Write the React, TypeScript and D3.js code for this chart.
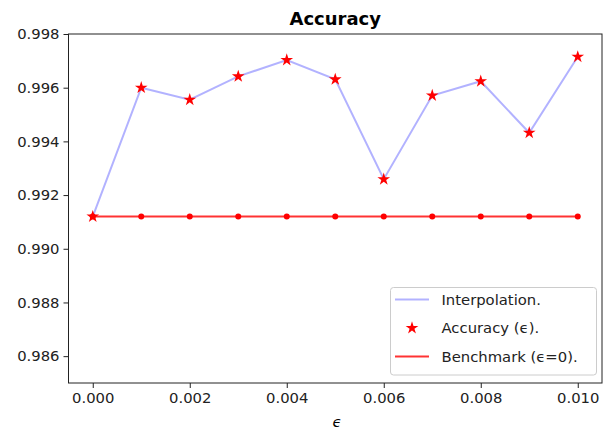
import React, { useEffect, useRef } from 'react';
import * as d3 from 'd3';

// epsilon values and measured accuracy
const epsilons = [0, 0.001, 0.002, 0.003, 0.004, 0.005, 0.006, 0.007, 0.008, 0.009, 0.01];
const accuracy = [0.9912, 0.996, 0.99555, 0.99642, 0.99703, 0.99631, 0.99259, 0.99571, 0.99624, 0.99432, 0.99715];
const benchmark = 0.9912;
const xTicks = [0, 0.002, 0.004, 0.006, 0.008, 0.01];
const yTicks = [0.986, 0.988, 0.99, 0.992, 0.994, 0.996, 0.998];
const legendLabels = ['Interpolation.', 'Accuracy (ϵ).', 'Benchmark (ϵ=0).'];

const App = () => {
  const svgRef = useRef<SVGSVGElement>(null);

  useEffect(() => {
    const width = 603;
    const height = 430;
    const m = { left: 68.5, top: 34, right: 602, bottom: 383 };
    const font = 'DejaVu Sans, sans-serif';
    const fs = '14.8px';

    const svg = d3.select(svgRef.current);
    svg.selectAll('*').remove();
    svg.attr('width', width).attr('height', height).style('display', 'block');

    svg.append('rect').attr('width', width).attr('height', height).attr('fill', 'white');

    const x = d3.scaleLinear().domain([-0.0005, 0.0105]).range([m.left, m.right]);
    const y = d3.scaleLinear().domain([0.985, 0.998]).range([m.bottom, m.top]);

    // axes
    const xAxis = svg.append('g')
      .attr('transform', `translate(0,${m.bottom})`)
      .call(d3.axisBottom(x).tickValues(xTicks).tickFormat(d3.format('.3f')).tickSize(5).tickPadding(4));
    const yAxis = svg.append('g')
      .attr('transform', `translate(${m.left},0)`)
      .call(d3.axisLeft(y).tickValues(yTicks).tickFormat(d3.format('.3f')).tickSize(5).tickPadding(4));
    [xAxis, yAxis].forEach(a => {
      a.select('.domain').remove();
      a.selectAll('line').attr('stroke', '#222');
      a.selectAll('text').attr('fill', '#222').style('font-family', font).style('font-size', fs);
    });

    // spines
    svg.append('rect')
      .attr('x', m.left).attr('y', m.top)
      .attr('width', m.right - m.left).attr('height', m.bottom - m.top)
      .attr('fill', 'none').attr('stroke', '#222').attr('stroke-width', 1);

    const pts = epsilons.map((e, i) => [e, accuracy[i]] as [number, number]);
    const line = d3.line<[number, number]>().x(d => x(d[0])).y(d => y(d[1]));

    // interpolation
    svg.append('path')
      .attr('d', line(pts))
      .attr('fill', 'none')
      .attr('stroke', 'blue')
      .attr('stroke-opacity', 0.3)
      .attr('stroke-width', 2);

    // benchmark
    svg.append('path')
      .attr('d', line(epsilons.map(e => [e, benchmark] as [number, number])))
      .attr('fill', 'none')
      .attr('stroke', 'red')
      .attr('stroke-opacity', 0.8)
      .attr('stroke-width', 2);
    svg.append('g').selectAll('circle')
      .data(epsilons)
      .enter()
      .append('circle')
      .attr('cx', d => x(d))
      .attr('cy', y(benchmark))
      .attr('r', 3)
      .attr('fill', 'red');

    // stars
    const star = d3.symbol().type(d3.symbolStar).size(50);
    svg.append('g').selectAll('path')
      .data(pts)
      .enter()
      .append('path')
      .attr('d', star)
      .attr('transform', d => `translate(${x(d[0])},${y(d[1])})`)
      .attr('fill', 'red');

    // title and x label
    svg.append('text')
      .attr('x', (m.left + m.right) / 2).attr('y', 25)
      .attr('text-anchor', 'middle')
      .style('font-family', font).style('font-size', '18px').style('font-weight', 'bold')
      .text('Accuracy');
    svg.append('text')
      .attr('x', 337).attr('y', 427)
      .attr('text-anchor', 'middle')
      .style('font-family', font).style('font-size', fs).style('font-style', 'italic')
      .text('ϵ');

    // legend
    const lg = svg.append('g');
    lg.append('rect')
      .attr('x', 390.5).attr('y', 287.5).attr('width', 206).attr('height', 87.5)
      .attr('rx', 3)
      .attr('fill', 'white').attr('fill-opacity', 0.8)
      .attr('stroke', '#ccc');
    const rows = [299.5, 328, 356.5];
    lg.append('line').attr('x1', 395).attr('x2', 429).attr('y1', rows[0]).attr('y2', rows[0])
      .attr('stroke', 'blue').attr('stroke-opacity', 0.3).attr('stroke-width', 2);
    lg.append('path').attr('d', star).attr('transform', `translate(412,${rows[1]})`).attr('fill', 'red');
    lg.append('line').attr('x1', 395).attr('x2', 429).attr('y1', rows[2]).attr('y2', rows[2])
      .attr('stroke', 'red').attr('stroke-opacity', 0.8).attr('stroke-width', 2);
    lg.selectAll('text.lbl')
      .data(legendLabels)
      .enter()
      .append('text')
      .attr('class', 'lbl')
      .attr('x', 441.5)
      .attr('y', (d, i) => rows[i])
      .attr('dy', '0.35em')
      .style('font-family', font).style('font-size', fs).attr('fill', '#222')
      .text(d => d);
  }, []);

  return <svg ref={svgRef} style={{ position: 'absolute', left: 0, top: 0 }} />;
};

export default App;
